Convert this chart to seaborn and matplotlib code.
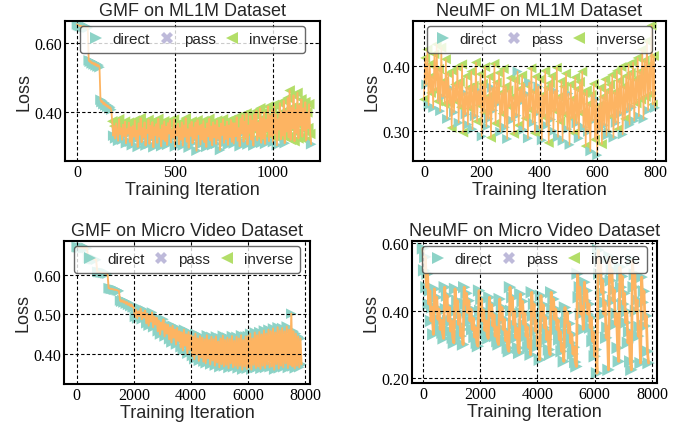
import numpy as np
import pandas as pd
import matplotlib
matplotlib.use("Agg")
import matplotlib.pyplot as plt
import seaborn as sns
from matplotlib.lines import Line2D
from matplotlib.ticker import FormatStrFormatter

sns.set_theme(style="white")
plt.rcParams["font.family"] = ["Liberation Sans", "DejaVu Sans"]

# ---------------- data ----------------
kind_names = {"d": "direct", "p": "pass", "i": "inverse"}
legend_kinds = ["direct", "pass", "inverse"]

# GMF on ML1M (every 5 iterations)
gmf_ml1m_step = 5
gmf_ml1m_loss = [
    0.655, 0.653, 0.652, 0.650, 0.651, 0.649, 0.648, 0.650, 0.647, 0.646, 0.648, 0.645,
    0.550, 0.546, 0.548, 0.541, 0.544, 0.538, 0.542, 0.535, 0.539, 0.532, 0.536, 0.530,
    0.435, 0.428, 0.431, 0.422, 0.426, 0.418, 0.421, 0.414, 0.417, 0.410, 0.413, 0.406,
    0.372, 0.330, 0.358, 0.322, 0.366, 0.341, 0.315, 0.378, 0.335, 0.352,
    0.318, 0.362, 0.329, 0.371, 0.308, 0.349, 0.336, 0.368, 0.312, 0.355,
    0.302, 0.358, 0.327, 0.374, 0.319, 0.345, 0.297, 0.366, 0.333, 0.381,
    0.311, 0.352, 0.325, 0.369, 0.301, 0.347, 0.338, 0.376, 0.306, 0.359,
    0.322, 0.370, 0.296, 0.355, 0.331, 0.364, 0.309, 0.379, 0.327, 0.348,
    0.299, 0.361, 0.320, 0.372, 0.314, 0.356, 0.303, 0.367, 0.336, 0.374,
    0.310, 0.346, 0.324, 0.377, 0.298, 0.357, 0.330, 0.365, 0.305, 0.352,
    0.318, 0.369, 0.301, 0.360, 0.327, 0.381, 0.312, 0.349, 0.295, 0.363,
    0.329, 0.371, 0.308, 0.354, 0.322, 0.368, 0.286, 0.375, 0.334, 0.358,
    0.304, 0.362, 0.319, 0.373, 0.311, 0.350, 0.297, 0.366, 0.328, 0.379,
    0.316, 0.357, 0.302, 0.369, 0.325, 0.361, 0.306, 0.374, 0.321, 0.353,
    0.288, 0.365, 0.332, 0.378, 0.309, 0.356, 0.320, 0.371, 0.303, 0.360,
    0.326, 0.376, 0.312, 0.367,
    0.307, 0.366, 0.328, 0.384, 0.315, 0.352, 0.299, 0.379, 0.336, 0.390,
    0.312, 0.371, 0.325, 0.395, 0.304, 0.360, 0.338, 0.388, 0.318, 0.374,
    0.301, 0.392, 0.345, 0.402, 0.316, 0.368, 0.328, 0.410, 0.309, 0.381,
    0.322, 0.398, 0.306, 0.376, 0.343, 0.415, 0.314, 0.389, 0.329, 0.405,
    0.311, 0.420, 0.336, 0.392, 0.302, 0.378, 0.348, 0.425, 0.319, 0.398,
    0.330, 0.432, 0.308, 0.401, 0.342, 0.440, 0.325, 0.462, 0.318, 0.412,
    0.351, 0.448, 0.314, 0.405, 0.338, 0.455, 0.322, 0.418, 0.360, 0.436,
    0.327, 0.410, 0.346, 0.428, 0.316, 0.398, 0.352, 0.422, 0.335, 0.305,
]
gmf_ml1m_kind = "".join([
    "dddddddddddd", "dddddddddddd", "dddddddddddd",
    "idididdidi", "dididididi", "dididididi", "dididididi", "dididididi",
    "dididididi", "dididididi", "dididididi", "dididididi", "dididididi",
    "dididididi", "dididididi", "didi",
    "dididididi", "diiidiiidi", "diiidiiidi", "iidiiidiii",
    "diiidiiiii", "iidiiiiiii", "iiiiiiiiii", "iiiiiiiiid",
])

# NeuMF on ML1M (every 4 iterations)
neumf_ml1m_step = 4
neumf_ml1m_loss = [
    0.348, 0.412, 0.371, 0.425, 0.339, 0.402, 0.358, 0.384, 0.335, 0.418,
    0.362, 0.433, 0.345, 0.395, 0.330, 0.428, 0.352, 0.376, 0.341, 0.410,
    0.318, 0.388, 0.342, 0.365, 0.304, 0.392, 0.328, 0.371, 0.345, 0.398,
    0.312, 0.375, 0.336, 0.402, 0.297, 0.358, 0.325, 0.384, 0.309, 0.366,
    0.334, 0.391, 0.302, 0.369, 0.322, 0.405, 0.314, 0.361, 0.339, 0.387,
    0.291, 0.372, 0.328, 0.398, 0.306, 0.352, 0.318, 0.383, 0.289, 0.366,
    0.331, 0.403, 0.311, 0.374, 0.342, 0.389, 0.298, 0.358, 0.326, 0.395,
    0.305, 0.368, 0.287, 0.362, 0.337, 0.381, 0.316, 0.352, 0.295, 0.378,
    0.323, 0.391, 0.308, 0.364, 0.344, 0.385, 0.301, 0.372, 0.319, 0.356,
    0.288, 0.374, 0.332, 0.396, 0.312, 0.361, 0.296, 0.383, 0.327, 0.368,
    0.303, 0.379, 0.285, 0.355, 0.321, 0.392, 0.308, 0.366, 0.281, 0.373,
    0.317, 0.384, 0.299, 0.361, 0.330, 0.397, 0.290, 0.352, 0.314, 0.376,
    0.284, 0.368, 0.325, 0.388, 0.302, 0.357, 0.278, 0.371, 0.319, 0.349,
    0.296, 0.382, 0.311, 0.364, 0.288, 0.375, 0.327, 0.391, 0.305, 0.358,
    0.276, 0.362, 0.298, 0.341, 0.268, 0.355, 0.315, 0.372, 0.286, 0.348,
    0.262, 0.338, 0.301, 0.366, 0.279, 0.352, 0.308, 0.379, 0.292, 0.361,
    0.298, 0.371, 0.321, 0.386, 0.289, 0.359, 0.312, 0.392, 0.302, 0.377,
    0.326, 0.398, 0.294, 0.368, 0.318, 0.384, 0.331, 0.402, 0.309, 0.389,
    0.336, 0.405, 0.315, 0.379, 0.342, 0.412, 0.322, 0.391, 0.348, 0.425,
    0.318, 0.408, 0.352, 0.438, 0.331, 0.401, 0.356, 0.462, 0.340, 0.415,
    0.335,
]
neumf_ml1m_kind = "".join([
    "iididiiidi", "iiiididiii", "diidiidiii", "diiiiddidi", "iididiidii",
    "diiididiid", "diiididiii", "didiiidiii", "ddiididiid", "ddiidiiidd",
    "didiiidiii", "diddiidiii", "diiidddiii", "iididiiidi", "iidididiid",
    "didiiididi", "diiididiii", "didiiididi", "didiiidiii", "diiidiiiii",
    "d",
])

# GMF on Micro Video (every 40 iterations)
gmf_micro_step = 40
gmf_micro_loss = [
    0.669, 0.668, 0.668, 0.667, 0.668, 0.667, 0.667, 0.666, 0.667, 0.666,
    0.641, 0.640, 0.640, 0.639, 0.639, 0.638, 0.638, 0.637,
    0.607, 0.606, 0.606, 0.605, 0.605, 0.604, 0.604, 0.603, 0.603, 0.602,
    0.566, 0.565, 0.564, 0.564, 0.563, 0.562, 0.562, 0.561, 0.560, 0.559,
    0.535, 0.532, 0.536, 0.530, 0.533, 0.527, 0.531, 0.524, 0.528, 0.521, 0.525, 0.518,
    0.518, 0.494, 0.512, 0.490, 0.508, 0.496, 0.515, 0.488, 0.505, 0.492,
    0.510, 0.478, 0.502, 0.472, 0.498, 0.482, 0.505, 0.468, 0.495, 0.475,
    0.492, 0.458, 0.485, 0.450, 0.480, 0.462, 0.488, 0.445, 0.476, 0.452,
    0.474, 0.438, 0.468, 0.430, 0.472, 0.442, 0.462, 0.425, 0.466, 0.434,
    0.458, 0.418, 0.455, 0.410, 0.462, 0.422, 0.450, 0.402, 0.456, 0.412,
    0.448, 0.396, 0.445, 0.388, 0.452, 0.400, 0.440, 0.384, 0.446, 0.392,
    0.442, 0.382, 0.438, 0.378, 0.448, 0.390, 0.436, 0.375, 0.444, 0.385,
    0.438, 0.372, 0.445, 0.380, 0.432, 0.368, 0.440, 0.376, 0.447, 0.370,
    0.436, 0.374, 0.442, 0.366, 0.438, 0.378, 0.446, 0.368, 0.434, 0.372,
    0.444, 0.365, 0.440, 0.372, 0.448, 0.362, 0.436, 0.370, 0.445, 0.364,
    0.446, 0.368, 0.452, 0.362, 0.440, 0.374, 0.455, 0.366, 0.448, 0.370,
    0.456, 0.364, 0.450, 0.372, 0.460, 0.366, 0.452, 0.375, 0.462, 0.368,
    0.458, 0.370, 0.465, 0.362, 0.455, 0.376, 0.468, 0.365, 0.460, 0.372,
    0.466, 0.368, 0.458, 0.378, 0.470, 0.366, 0.462, 0.374, 0.502, 0.370,
    0.458, 0.365, 0.452, 0.372, 0.445, 0.368, 0.440, 0.375,
]
gmf_micro_kind = "d" * len(gmf_micro_loss)

# NeuMF on Micro Video (every 40 iterations; sawtooth, one row per tooth)
neumf_micro_step = 40
neumf_micro_loss = [
    0.585, 0.520, 0.560, 0.470, 0.510, 0.420, 0.460, 0.370, 0.410, 0.330,
    0.465, 0.405, 0.440, 0.375, 0.405, 0.345, 0.372, 0.335, 0.318,
    0.470, 0.405, 0.445, 0.370, 0.410, 0.340, 0.370, 0.320, 0.305,
    0.465, 0.400, 0.430, 0.360, 0.390, 0.325, 0.345, 0.300,
    0.470, 0.420, 0.452, 0.395, 0.430, 0.370, 0.405, 0.345, 0.378, 0.322, 0.350, 0.305, 0.295,
    0.460, 0.400, 0.435, 0.370, 0.402, 0.342, 0.370, 0.328, 0.318,
    0.440, 0.385, 0.418, 0.355, 0.388, 0.325, 0.352, 0.310, 0.300,
    0.435, 0.375, 0.410, 0.345, 0.375, 0.312, 0.338, 0.290, 0.280,
    0.470, 0.400, 0.440, 0.360, 0.398, 0.320, 0.348, 0.290, 0.275,
    0.450, 0.395, 0.428, 0.360, 0.392, 0.325, 0.352, 0.292, 0.310, 0.270,
    0.455, 0.385, 0.420, 0.340, 0.372, 0.295, 0.315, 0.255,
    0.445, 0.385, 0.418, 0.350, 0.380, 0.315, 0.338, 0.285, 0.270,
    0.455, 0.405, 0.435, 0.375, 0.405, 0.345, 0.372, 0.315, 0.338, 0.280, 0.298, 0.250,
    0.410, 0.365, 0.395, 0.335, 0.362, 0.305, 0.330, 0.272, 0.292, 0.248, 0.235,
    0.510, 0.440, 0.470, 0.390, 0.412, 0.345,
    0.485, 0.430, 0.460, 0.390, 0.420, 0.350, 0.380, 0.310, 0.335, 0.265, 0.285, 0.215,
    0.580, 0.510, 0.548, 0.455, 0.490, 0.390, 0.425, 0.320, 0.350, 0.225,
    0.560, 0.490, 0.522, 0.430, 0.462, 0.360, 0.392, 0.290, 0.250,
    0.530, 0.470, 0.502, 0.420, 0.452, 0.365, 0.398, 0.305, 0.338, 0.250, 0.225,
    0.550, 0.470, 0.508, 0.400, 0.432, 0.325, 0.352, 0.245,
    0.500, 0.425, 0.458, 0.355, 0.385, 0.280, 0.245,
]
neumf_micro_kind = "d" * len(neumf_micro_loss)

assert len(gmf_ml1m_loss) == len(gmf_ml1m_kind)
assert len(neumf_ml1m_loss) == len(neumf_ml1m_kind)

# ---------------- styling ----------------
kind_colors = {"direct": "#8dd3c7", "pass": "#bebada", "inverse": "#b3de69"}
kind_markers = {"direct": ">", "pass": "X", "inverse": "<"}
line_color = "#fdb462"

panels = [
    dict(title="GMF on ML1M Dataset", loss=gmf_ml1m_loss, kind=gmf_ml1m_kind,
         step=gmf_ml1m_step, xticks=[0, 500, 1000], yticks=[0.40, 0.60],
         xlim=(-61, 1240), ylim=(0.256, 0.665), lw=1.3, s=58,
         pos=[65, 22, 320, 162]),
    dict(title="NeuMF on ML1M Dataset", loss=neumf_ml1m_loss, kind=neumf_ml1m_kind,
         step=neumf_ml1m_step, xticks=[0, 200, 400, 600, 800], yticks=[0.30, 0.40],
         xlim=(-38, 838), ylim=(0.253, 0.469), lw=1.1, s=52,
         pos=[413, 22, 666, 162]),
    dict(title="GMF on Micro Video Dataset", loss=gmf_micro_loss, kind=gmf_micro_kind,
         step=gmf_micro_step, xticks=[0, 2000, 4000, 6000, 8000], yticks=[0.40, 0.50, 0.60],
         xlim=(-445, 8175), ylim=(0.326, 0.684), lw=1.4, s=58,
         pos=[64, 242, 310, 385]),
    dict(title="NeuMF on Micro Video Dataset", loss=neumf_micro_loss, kind=neumf_micro_kind,
         step=neumf_micro_step, xticks=[0, 2000, 4000, 6000, 8000], yticks=[0.20, 0.40, 0.60],
         xlim=(-384, 8175), ylim=(0.186, 0.607), lw=2.0, s=80,
         pos=[412, 242, 657, 384]),
]

W, H = 690, 427
fig = plt.figure(figsize=(W / 100, H / 100), dpi=100)

for p in panels:
    l, t, r, b = p["pos"]
    ax = fig.add_axes([l / W, (H - b) / H, (r - l) / W, (b - t) / H])
    df = pd.DataFrame({
        "Training Iteration": np.arange(len(p["loss"])) * p["step"],
        "Loss": p["loss"],
        "kind": [kind_names[c] for c in p["kind"]],
    })
    sns.scatterplot(data=df, x="Training Iteration", y="Loss", hue="kind", style="kind",
                    palette=kind_colors, markers=kind_markers, s=p["s"], linewidth=0,
                    legend=False, ax=ax, zorder=1)
    sns.lineplot(data=df, x="Training Iteration", y="Loss", color=line_color,
                 linewidth=p["lw"], sort=False, estimator=None, ax=ax, zorder=2)
    ax.set_xlim(*p["xlim"])
    ax.set_ylim(*p["ylim"])
    ax.set_xticks(p["xticks"])
    ax.set_yticks(p["yticks"])
    ax.yaxis.set_major_formatter(FormatStrFormatter("%.2f"))
    ax.set_axisbelow(False)
    ax.grid(True, color="black", linestyle=(0, (3, 2)), linewidth=0.8)
    for s in ax.spines.values():
        s.set_color("black")
        s.set_linewidth(1.5)
    ax.tick_params(direction="out", length=0, colors="black",
                   labelsize=11.5, labelfontfamily="Liberation Serif", pad=2)
    ax.set_title(p["title"], fontsize=13, pad=4)
    ax.set_xlabel("Training Iteration", fontsize=13, labelpad=1)
    ax.set_ylabel("Loss", fontsize=13, labelpad=1)

    handles = [Line2D([], [], linestyle="none", marker=kind_markers[k],
                      markersize=9, color=kind_colors[k], markeredgewidth=0)
               for k in legend_kinds]
    leg = ax.legend(handles, legend_kinds, loc="upper center", ncol=3, fontsize=11,
                    frameon=True, fancybox=True, framealpha=0.8, borderaxespad=0.3,
                    handlelength=1.2, handletextpad=0.5, columnspacing=0.5,
                    borderpad=0.45)
    leg.get_frame().set_edgecolor("#444444")
    leg.get_frame().set_linewidth(1.0)

fig.savefig("out.png", dpi=100)
